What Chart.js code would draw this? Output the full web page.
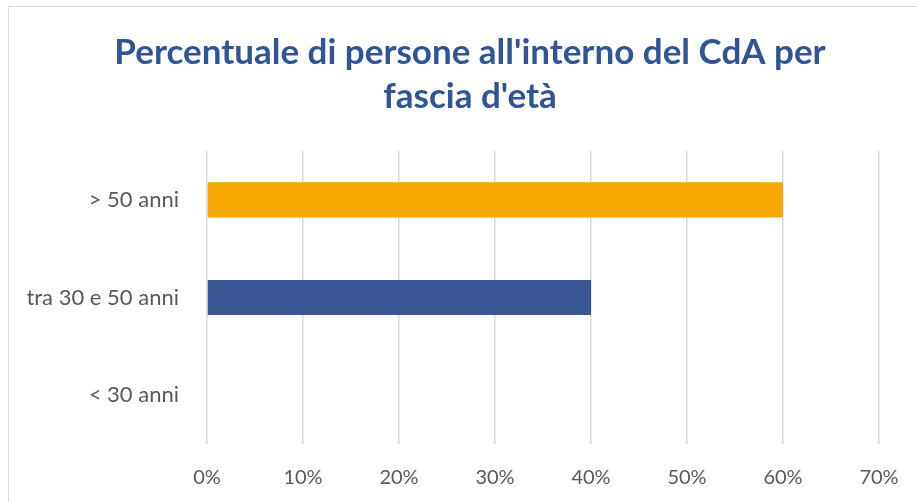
<!DOCTYPE html>
<html>
<head>
<meta charset="utf-8">
<script src="https://cdn.jsdelivr.net/npm/chart.js@4/dist/chart.umd.min.js"></script>
<style>
  html, body { margin: 0; padding: 0; background: #ffffff; overflow: hidden; }
  #frame { position: absolute; left: 8px; top: 6px; width: 1200px; height: 900px; border: 1.5px solid #d9d9d9; box-sizing: border-box; }
  #wrap { position: absolute; left: 0; top: 0; width: 917px; height: 502px; }
</style>
</head>
<body>
<div id="frame"></div>
<div id="wrap"><canvas id="c" width="917" height="502"></canvas></div>
<script>
const titleLines = ["Percentuale di persone all'interno del CdA per", "fascia d'età"];
const categories = ["> 50 anni", "tra 30 e 50 anni", "< 30 anni"];
const values = [60, 40, 0];
const barColors = ["#F6A800", "#3A5795", "#7F7F7F"];
const xTicksMax = 70;
const xTickStep = 10;

const titleShift = {
  id: 'titleShift',
  afterLayout(chart) {
    const tb = chart.titleBlock;
    if (tb) { tb.left = 61; tb.right = 879; }
  }
};

new Chart(document.getElementById('c'), {
  type: 'bar',
  data: {
    labels: categories,
    datasets: [{
      data: values,
      backgroundColor: barColors,
      borderWidth: 0,
      categoryPercentage: 1,
      barPercentage: 0.36
    }]
  },
  plugins: [titleShift],
  options: {
    indexAxis: 'y',
    responsive: false,
    animation: false,
    devicePixelRatio: 1,
    layout: { padding: { left: 0, right: 38, top: 0, bottom: 0 } },
    plugins: {
      legend: { display: false },
      tooltip: { enabled: false },
      title: {
        display: true,
        text: titleLines,
        color: '#2F5597',
        font: { family: 'Lato', size: 35, weight: 'bold', lineHeight: 1.257 },
        padding: { top: 31, bottom: 32 }
      }
    },
    scales: {
      x: {
        min: 0,
        max: xTicksMax,
        border: { display: false },
        grid: { color: '#d9d9d9', lineWidth: 1.5, drawTicks: false },
        ticks: {
          stepSize: xTickStep,
          padding: 22,
          color: '#595959',
          font: { family: 'Lato', size: 20 },
          callback: v => v + '%'
        },
        afterFit: s => { s.height = 58; s.paddingLeft = 0; s.paddingRight = 0; }
      },
      y: {
        border: { display: false },
        grid: { display: false, drawTicks: false },
        ticks: {
          padding: 28,
          color: '#595959',
          font: { family: 'Lato', size: 22 }
        },
        afterFit: s => { s.width = 207; }
      }
    }
  }
});
</script>
</body>
</html>
